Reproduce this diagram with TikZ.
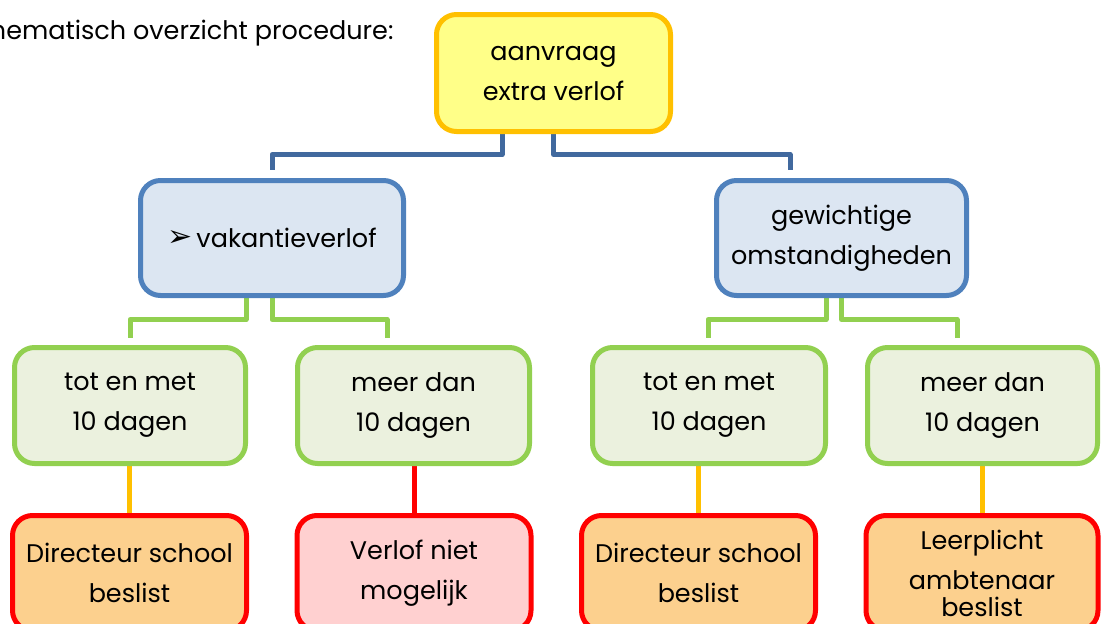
\documentclass[tikz,border=0pt]{standalone}
\usepackage{fontspec}
\setmainfont{Poppins}
\newfontfamily\symfont{DejaVu Sans}
\usetikzlibrary{backgrounds}
\definecolor{topfill}{HTML}{FFFF88}
\definecolor{topdraw}{HTML}{FFC000}
\definecolor{bluedraw}{HTML}{4F81BD}
\definecolor{bluefill}{HTML}{DCE6F2}
\definecolor{blueline}{HTML}{41699E}
\definecolor{greendraw}{HTML}{92D050}
\definecolor{greenfill}{HTML}{EBF1DE}
\definecolor{orangeline}{HTML}{FFC000}
\definecolor{reddraw}{HTML}{FF0000}
\definecolor{orangefill}{HTML}{FCD08E}
\definecolor{pinkfill}{HTML}{FFD0D0}
\begin{document}
\begin{tikzpicture}[x=1pt,y=-1pt,
  box/.style={rectangle, rounded corners=20pt, line width=5pt, align=center,
    font=\fontsize{25.5}{40}\selectfont, inner sep=0pt},
  topbox/.style={box, draw=topdraw, fill=topfill, minimum width=234pt, minimum height=117pt},
  bluebox/.style={box, draw=bluedraw, fill=bluefill, minimum height=115pt},
  greenbox/.style={box, draw=greendraw, fill=greenfill, minimum height=116pt},
  redbox/.style={box, draw=reddraw, minimum height=115pt},
  conn/.style={line width=5pt, line join=round},
]
\useasboundingbox (0,0) rectangle (1101,624);
% nodes
\node[anchor=base east, font=\fontsize{25.5}{30}\selectfont] (title) at (397,39) {Schematisch overzicht procedure:};
\node[topbox] (top) at (553.5,73) {aanvraag\\extra verlof};
\node[bluebox, minimum width=263pt] (vak) at (272,238) {\raisebox{1pt}{\symfont\fontsize{30}{30}\selectfont ➢}\hspace{4pt}vakantieverlof};
\node[bluebox, minimum width=250pt] (gew) at (841.5,238) {gewichtige\\omstandigheden};
\node[greenbox, minimum width=231pt] (a1) at (130,405.5) {tot en met\\10 dagen};
\node[greenbox, minimum width=232pt] (a2) at (413.5,405.5) {meer dan\\10 dagen};
\node[greenbox, minimum width=233pt] (a3) at (709,405.5) {tot en met\\10 dagen};
\node[greenbox, minimum width=230pt] (a4) at (982.5,405.5) {meer dan\\10 dagen};
\node[redbox, fill=orangefill, minimum width=234pt] (b1) at (129.5,573) {Directeur school\\beslist};
\node[redbox, fill=pinkfill, minimum width=234pt] (b2) at (414,573) {Verlof niet\\mogelijk};
\node[redbox, fill=orangefill, minimum width=234pt] (b3) at (698.5,573) {Directeur school\\beslist};
\node[redbox, fill=orangefill, minimum width=232pt] (b4) at (982,573) {Leerplicht\\ambtenaar\\[-13pt]beslist};
% connectors
\begin{scope}[on background layer]
\draw[conn, blueline] ([xshift=-51.5pt]top.south) -- ++(0,20.5) -| ([yshift=8pt]vak.north);
\draw[conn, blueline] (top.south) -- ++(0,20.5) -| ([xshift=-51.5pt,yshift=8pt]gew.north);
\draw[conn, greendraw] ([xshift=-26pt]vak.south) -- ++(0,21.5) -| ([yshift=7pt]a1.north);
\draw[conn, greendraw] (vak.south) -- ++(0,21.5) -| ([xshift=-26.5pt,yshift=7pt]a2.north);
\draw[conn, greendraw] ([xshift=-15.5pt]gew.south) -- ++(0,21.5) -| ([xshift=-1pt,yshift=7pt]a3.north);
\draw[conn, greendraw] (gew.south) -- ++(0,21.5) -| ([xshift=-25.5pt,yshift=7pt]a4.north);
\draw[conn, orangeline] (b1.north) -- (b1.north |- a1.south);
\draw[conn, reddraw] (b2.north) -- (b2.north |- a2.south);
\draw[conn, orangeline] (b3.north) -- (b3.north |- a3.south);
\draw[conn, orangeline] (b4.north) -- (b4.north |- a4.south);
\end{scope}
\end{tikzpicture}
\end{document}
